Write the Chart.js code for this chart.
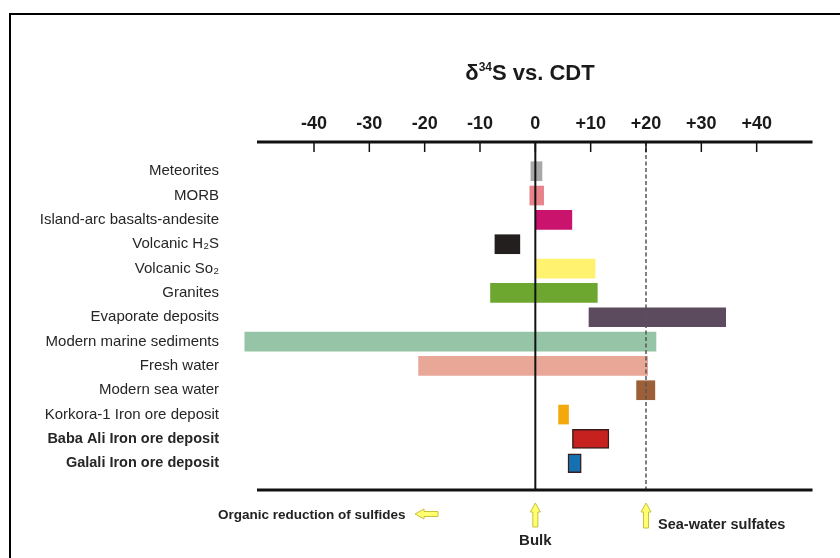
<!DOCTYPE html>
<html>
<head>
<meta charset="utf-8">
<script src="https://cdn.jsdelivr.net/npm/chart.js@4.4.0/dist/chart.umd.min.js"></script>
<style>
  html, body { margin: 0; padding: 0; background: #ffffff; }
  #wrap { width: 840px; height: 558px; }
</style>
</head>
<body>
<div id="wrap"><canvas id="c" width="840" height="558"></canvas></div>
<script>
// ---- Data ----
const categories = [
  'Meteorites',
  'MORB',
  'Island-arc basalts-andesite',
  'Volcanic H\u2082S',
  'Volcanic So\u2082',
  'Granites',
  'Evaporate deposits',
  'Modern marine sediments',
  'Fresh water',
  'Modern sea water',
  'Korkora-1 Iron ore deposit',
  'Baba Ali Iron ore deposit',
  'Galali Iron ore deposit'
];
const lowValues  = [-0.8, -1.0, 0.0, -7.3, 0.2, -8.1,  9.7, -52.5, -21.1, 18.3, 4.2,  6.7, 5.9];
const highValues = [ 1.2,  1.5, 6.6, -2.8, 10.8, 11.2, 34.4, 21.8,  20.3, 21.6, 6.0, 13.3, 8.3];
const boldCategories = ['Baba Ali Iron ore deposit', 'Galali Iron ore deposit'];
const xTickValues = [-40, -30, -20, -10, 0, 10, 20, 30, 40];
const xTickLabels = ['-40', '-30', '-20', '-10', '0', '+10', '+20', '+30', '+40'];
const bulkValue = 0;
const seaWaterSulfateValue = 20;

// ---- Styles ----
const barColors = ['#a8a8a8', '#e9838b', '#c9136c', '#231f1f', '#fff26e', '#6ea72f',
                   '#5c4a5e', '#95c4a6', '#e9a797', '#9c5f37', '#f3a90a', '#c7211f', '#1470b0'];
const barBorders = categories.map(c => boldCategories.includes(c) ? '#3a1c1c' : 'rgba(0,0,0,0)');
const barBorderWidths = categories.map(c => boldCategories.includes(c) ? 1.5 : 0);
const FONT = "'Liberation Sans', Arial, Helvetica, sans-serif";

const decor = {
  id: 'decor',
  beforeDraw(chart) {
    const ctx = chart.ctx;
    ctx.save();
    ctx.fillStyle = '#ffffff';
    ctx.fillRect(0, 0, chart.width, chart.height);
    ctx.strokeStyle = '#000';
    ctx.lineWidth = 2;
    ctx.strokeRect(10, 14, chart.width + 20, chart.height + 20);
    ctx.restore();
  },
  afterDatasetsDraw(chart) {
    const ctx = chart.ctx;
    const xs = chart.scales.x;
    const a = chart.chartArea;
    ctx.save();
    // dashed sea-water line
    ctx.strokeStyle = '#555';
    ctx.lineWidth = 1.5;
    ctx.setLineDash([4, 2.5]);
    const xs20 = xs.getPixelForValue(seaWaterSulfateValue);
    ctx.beginPath(); ctx.moveTo(xs20, a.top); ctx.lineTo(xs20, a.bottom); ctx.stroke();
    ctx.setLineDash([]);
    // zero line
    const x0 = xs.getPixelForValue(bulkValue);
    ctx.strokeStyle = '#111';
    ctx.lineWidth = 2;
    ctx.beginPath(); ctx.moveTo(x0, a.top); ctx.lineTo(x0, a.bottom); ctx.stroke();
    // top & bottom axis lines
    const xl = xs.getPixelForValue(-50.3), xr = xs.getPixelForValue(50.1);
    ctx.strokeStyle = '#111';
    ctx.lineWidth = 3;
    ctx.beginPath(); ctx.moveTo(xl, a.top); ctx.lineTo(xr, a.top); ctx.stroke();
    ctx.beginPath(); ctx.moveTo(xl, a.bottom); ctx.lineTo(xr, a.bottom); ctx.stroke();
    // tick marks
    ctx.lineWidth = 1.5;
    xTickValues.forEach(v => {
      const px = xs.getPixelForValue(v);
      ctx.beginPath(); ctx.moveTo(px, a.top); ctx.lineTo(px, a.top + 10); ctx.stroke();
    });
    // title
    ctx.fillStyle = '#1a1a1a';
    ctx.textBaseline = 'alphabetic';
    const big = "bold 22px " + FONT, small = "bold 12px " + FONT;
    ctx.font = big; const w1 = ctx.measureText('\u03b4').width; const w3 = ctx.measureText('S vs. CDT').width;
    ctx.font = small; const w2 = ctx.measureText('34').width;
    let tx = 530 - (w1 + w2 + w3) / 2;
    const ty = 80;
    ctx.textAlign = 'left';
    ctx.font = big; ctx.fillText('\u03b4', tx, ty); tx += w1;
    ctx.font = small; ctx.fillText('34', tx, ty - 9); tx += w2;
    ctx.font = big; ctx.fillText('S vs. CDT', tx, ty);
    // annotations
    ctx.fillStyle = '#222';
    ctx.textBaseline = 'middle';
    ctx.font = "bold 13.5px " + FONT;
    ctx.fillText('Organic reduction of sulfides', 218, 515);
    ctx.font = "bold 15px " + FONT;
    ctx.textAlign = 'center';
    ctx.fillText('Bulk', x0, 541);
    ctx.textAlign = 'left';
    ctx.font = "bold 14.5px " + FONT;
    ctx.fillText('Sea-water sulfates', 658, 525);
    // arrows
    ctx.fillStyle = '#ffff70';
    ctx.strokeStyle = '#c9c23a';
    ctx.lineWidth = 1;
    function upArrow(cx, top, bottom) {
      ctx.beginPath();
      ctx.moveTo(cx, top);
      ctx.lineTo(cx + 5, top + 9);
      ctx.lineTo(cx + 2.5, top + 9);
      ctx.lineTo(cx + 2.5, bottom);
      ctx.lineTo(cx - 2.5, bottom);
      ctx.lineTo(cx - 2.5, top + 9);
      ctx.lineTo(cx - 5, top + 9);
      ctx.closePath();
      ctx.fill(); ctx.stroke();
    }
    upArrow(x0, 503, 527);
    upArrow(xs20, 503, 528);
    // left arrow
    const lx = 415, rx = 438, cy = 514;
    ctx.beginPath();
    ctx.moveTo(lx, cy);
    ctx.lineTo(lx + 9, cy - 5);
    ctx.lineTo(lx + 9, cy - 2.5);
    ctx.lineTo(rx, cy - 2.5);
    ctx.lineTo(rx, cy + 2.5);
    ctx.lineTo(lx + 9, cy + 2.5);
    ctx.lineTo(lx + 9, cy + 5);
    ctx.closePath();
    ctx.fill(); ctx.stroke();
    ctx.restore();
  }
};

new Chart(document.getElementById('c'), {
  type: 'bar',
  data: {
    datasets: [{
      data: categories.map((c, i) => ({ x: [lowValues[i], highValues[i]], y: i })),
      backgroundColor: barColors,
      borderColor: barBorders,
      borderWidth: barBorderWidths,
      borderSkipped: false,
      barThickness: 19
    }]
  },
  options: {
    indexAxis: 'y',
    responsive: false,
    devicePixelRatio: 1,
    animation: false,
    layout: { padding: { top: 0, right: 28, bottom: 68, left: 0 } },
    plugins: { legend: { display: false }, tooltip: { enabled: false }, title: { display: false } },
    scales: {
      x: {
        type: 'linear', position: 'top', min: -55, max: 50, offset: false,
        grid: { display: false, drawTicks: false, offset: false }, border: { display: false },
        afterBuildTicks: s => { s.ticks = xTickValues.map(v => ({ value: v })); },
        afterFit: s => { s.height = 142; },
        ticks: {
          padding: 7, color: '#1a1a1a', autoSkip: false, maxRotation: 0,
          font: { family: FONT, size: 18, weight: 'bold' },
          callback: v => xTickLabels[xTickValues.indexOf(v)]
        }
      },
      y: {
        type: 'linear', reverse: true, min: -1.2, max: 13.1, offset: false,
        grid: { display: false, drawTicks: false, offset: false }, border: { display: false },
        afterBuildTicks: s => { s.ticks = categories.map((c, i) => ({ value: i })); },
        afterFit: s => { s.width = 231; },
        ticks: {
          padding: 12, color: '#262626', autoSkip: false,
          font: ctx => {
            const b = boldCategories.includes(categories[ctx.index]);
            return { family: FONT, size: b ? 14.5 : 15, weight: b ? 'bold' : 'normal' };
          },
          callback: v => categories[v]
        }
      }
    }
  },
  plugins: [decor]
});
</script>
</body>
</html>
